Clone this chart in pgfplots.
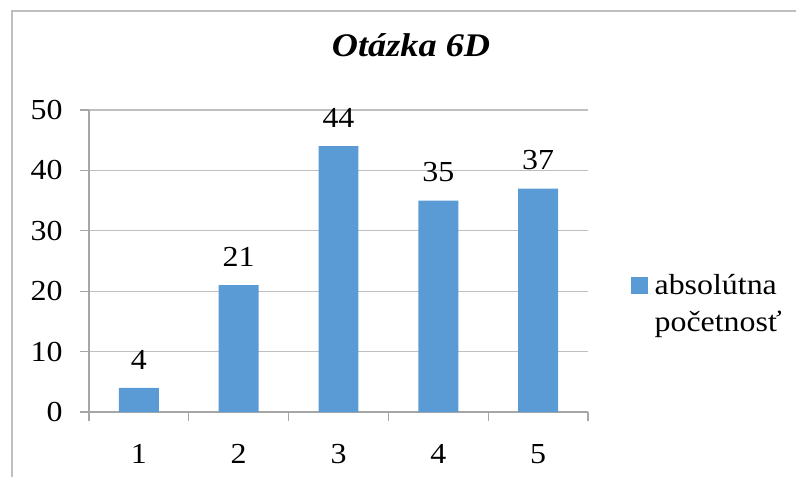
\documentclass[border=0pt]{standalone}
\usepackage{fontspec}
\setmainfont{Liberation Serif}[FakeStretch=1.1]
\usepackage{pgfplots}
\pgfplotsset{compat=1.18}
\definecolor{barblue}{HTML}{5B9BD5}
\definecolor{gridgray}{HTML}{BFBFBF}
\definecolor{axgray}{HTML}{A6A6A6}
\newcommand{\bigfont}{\fontsize{29}{37}\selectfont}

\begin{document}
\begin{tikzpicture}
% picture frame: axis origin sits at pixel (89,412) of the 796x477 picture
\path[use as bounding box] (-89pt,412pt) rectangle (707pt,-65pt);
\draw[gridgray, line width=1.5pt] (-77pt,-65pt) -- (-77pt,401pt) -- (707pt,401pt);
\node[font=\fontsize{33}{40}\selectfont\bfseries\itshape] at (322pt,367pt) {Otázka 6D};
\begin{axis}[at={(0pt,0pt)}, anchor=origin,
  width=499pt, height=302pt, scale only axis,
  xmin=0.5, xmax=5.5, ymin=0, ymax=50,
  axis lines*=left,
  ytick={0,10,...,50},
  xtick={0.5,1.5,...,5.5}, x tick label as interval, xticklabels={1,2,3,4,5},
  tick align=outside, major tick length=9pt,
  ymajorgrids, grid style={gridgray, line width=1.2pt},
  axis line style={axgray, line width=1.2pt},
  tick style={axgray, line width=1.2pt},
  tick label style={font=\bigfont},
  yticklabel style={xshift=-14pt},
  xticklabel style={yshift=-20pt},
  /pgf/number format/assume math mode=true,
  ybar, bar width=0.4,
  nodes near coords,
  every node near coord/.append style={font=\bigfont, black, yshift=15pt},
  legend style={at={(1.079,0.47)}, anchor=north west, draw=none, fill=none,
    font=\bigfont, cells={align=left}},
  legend image code/.code={\fill[barblue] (0pt,10pt) rectangle (17pt,27pt);
    \path (0pt,10pt) -- (22pt,10pt);}
]
\addplot[fill=barblue, draw=none] coordinates {(1,4) (2,21) (3,44) (4,35) (5,37)};
\addlegendentry{absolútna\\početnosť}
\end{axis}
\end{tikzpicture}
\end{document}
